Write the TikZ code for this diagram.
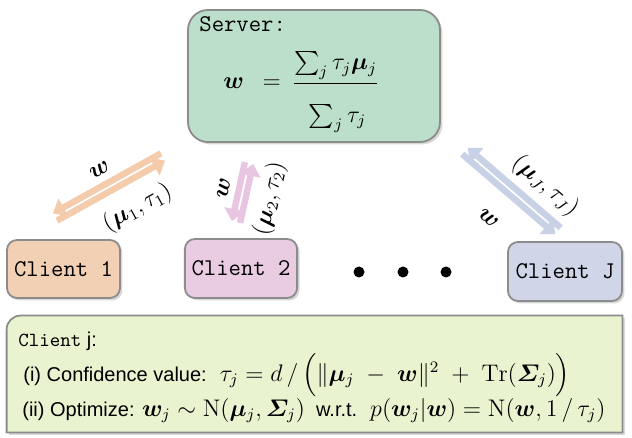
\documentclass[tikz,border=0pt]{standalone}
\usepackage{amsmath}
\usepackage{amssymb}
\usepackage{bm}
\usepackage{fontspec}
\setsansfont{Liberation Sans}
\usetikzlibrary{arrows.meta,calc,shadows}
\definecolor{srvgreen}{rgb}{0.737, 0.875, 0.796}
\definecolor{cpeach}{rgb}{0.945, 0.816, 0.702}
\definecolor{cpink}{rgb}{0.914, 0.796, 0.886}
\definecolor{cblue}{rgb}{0.816, 0.839, 0.910}
\definecolor{jlime}{rgb}{0.914, 0.953, 0.816}
\definecolor{fpeach}{rgb}{0.957, 0.800, 0.675}
\definecolor{fpink}{rgb}{0.910, 0.773, 0.878}
\definecolor{fblue}{rgb}{0.784, 0.820, 0.902}
\definecolor{edgegray}{rgb}{0.55, 0.55, 0.55}
\tikzset{box/.style={draw=edgegray, line width=0.9pt, rounded corners=5pt,
    drop shadow={shadow xshift=1.2pt, shadow yshift=-1.2pt, opacity=0.3}}}
\tikzset{flow/.style={line width=3.2pt, -{Triangle[width=10pt, length=6pt]}}}
\tikzset{txt/.style={anchor=base west, inner sep=0pt}}

\begin{document}
\begin{tikzpicture}[x=0.5pt, y=-0.5pt]%{{{
        \path[use as bounding box, fill=white] (0,0) rectangle (632,438);

        \node[box, fill=srvgreen, rounded corners=10pt, minimum width=126pt, minimum height=66pt] (Ns) at (314,76) {};
        \node[txt, font=\large\ttfamily] (Nst) at (199,32) {Server:};
        \node[txt, font=\large] (Nsf) at (223,89)
        {$\bm{w}\enspace=\,\dfrac{\textstyle\sum_j \tau_j \bm{\mu}_j}{\rule{0pt}{18pt}\textstyle\sum_j \tau_j}$};

        \node[box, fill=cpeach, minimum width=56.5pt, minimum height=29pt, font=\large\ttfamily] (N1) at (63.5,269) {Client 1};
        \node[box, fill=cpink, minimum width=56pt, minimum height=29.5pt, font=\large\ttfamily] (N2) at (241,268.5) {Client 2};
        \node[box, fill=cblue, minimum width=57pt, minimum height=29.5pt, font=\large\ttfamily] (NJ) at (565,271.5) {Client J};

        \foreach \x [count=\i] in {359,403,446}
            \node[circle, fill=black, inner sep=0pt, minimum size=5.5pt] (D\i) at (\x,272) {};

        \coordinate (S1) at (163,157);
        \coordinate (T1) at (55,217);
        \coordinate (S2) at (249,163);
        \coordinate (T2) at (236,222);
        \coordinate (S3) at (465,151);
        \coordinate (T3) at (558,231);

        \draw [flow, draw=fpeach] ($(S1)!2.1pt!-90:(T1)$) -- ($(T1)!2.1pt!90:(S1)$)
            node[midway, sloped, above, font=\large] (L1w) {$\bm{w}$};
        \draw [flow, draw=fpeach] ($(T1)!2.1pt!-90:(S1)$) -- ($(S1)!2.1pt!90:(T1)$)
            node[pos=0.62, sloped, below=3pt, font=\large] (L1m) {$(\bm{\mu}_1, \tau_1)$};
        \draw [flow, draw=fpink] ($(S2)!2.1pt!-90:(T2)$) -- ($(T2)!2.1pt!90:(S2)$)
            node[midway, sloped, above, font=\large] (L2w) {$\bm{w}$};
        \draw [flow, draw=fpink] ($(T2)!2.1pt!-90:(S2)$) -- ($(S2)!2.1pt!90:(T2)$)
            node[midway, sloped, below=1pt, font=\large] (L2m) {$(\bm{\mu}_2, \tau_2)$};
        \draw [flow, draw=fblue] ($(S3)!2.1pt!-90:(T3)$) -- ($(T3)!2.1pt!90:(S3)$)
            node[midway, sloped, below=8pt, font=\large] (L3w) {$\bm{w}$};
        \draw [flow, draw=fblue] ($(T3)!2.1pt!-90:(S3)$) -- ($(S3)!2.1pt!90:(T3)$)
            node[pos=0.32, sloped, above, font=\large] (L3m) {$(\bm{\mu}_J, \tau_J)$};

        \node[minimum width=307.5pt, minimum height=58pt, inner sep=0pt] (Nc) at (314.5,374) {};
        \draw [box, sharp corners, fill=jlime] (Nc.south west) -- ([yshift=-7pt]Nc.north west)
            arc[start angle=180, end angle=90, radius=7pt] -- (Nc.north east) -- (Nc.south east) -- cycle;
        \node[txt, font=\sffamily] (Ncl) at (18,346) {\texttt{Client} j:};
        \node[txt, font=\sffamily] (Nc1) at (23,381)
        {(i) Confidence value: \ {\large $\tau_j = d\,/\,\Big(\|\bm{\mu}_j \;-\; \bm{w}\|^2 \;+\; \mathrm{Tr}(\bm{\varSigma}_j)\Big)$}};
        \node[txt, font=\sffamily] (Nc2) at (22,416)
        {(ii) Optimize: {\large $\bm{w}_j \sim \mathrm{N}(\bm{\mu}_j, \bm{\varSigma}_j)$} \ w.r.t. \ {\large $p(\bm{w}_j|\bm{w}) = \mathrm{N}(\bm{w}, 1\,/\,\tau_j)$}};

\end{tikzpicture}
\end{document}
